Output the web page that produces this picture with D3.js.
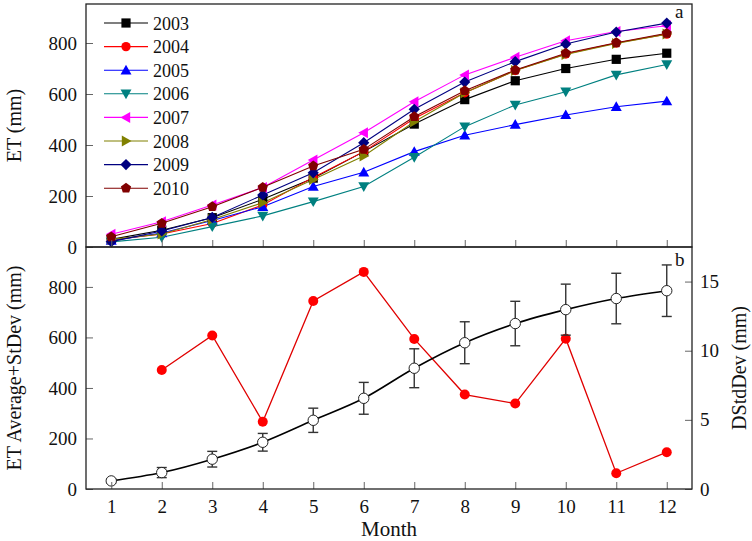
<!DOCTYPE html>
<html><head><meta charset="utf-8">
<script src="https://cdn.jsdelivr.net/npm/d3@7"></script>
<style>body{margin:0;background:#fff}svg{display:block}text{font-family:"Liberation Serif","Times New Roman",serif;fill:#111}</style>
</head><body>
<script>
const months = [1,2,3,4,5,6,7,8,9,10,11,12];
const years = ["2003","2004","2005","2006","2007","2008","2009","2010"];
const et2003 = [30, 66, 115, 187, 270, 374, 482, 578, 652, 700, 736, 760];
const et2004 = [28, 51, 92, 165, 273, 374, 504, 605, 692, 757, 800, 835];
const et2005 = [25, 55, 104, 158, 237, 293, 374, 438, 480, 518, 550, 572];
const et2006 = [20, 38, 80, 122, 178, 237, 352, 472, 557, 609, 675, 716];
const et2007 = [50, 99, 165, 233, 341, 448, 570, 675, 744, 809, 845, 868];
const et2008 = [30, 51, 108, 174, 265, 357, 491, 605, 692, 755, 798, 835];
const et2009 = [21, 63, 116, 204, 291, 409, 540, 647, 727, 796, 843, 878];
const et2010 = [40, 93, 158, 234, 318, 383, 511, 613, 694, 760, 801, 838];
const etAvg = [32, 65, 118, 185, 272, 359, 478, 579, 655, 710, 754, 785];
const etSd  = [8, 20, 31, 35, 48, 63, 77, 83, 88, 101, 100, 102];
const dStdDev = [null, 8.6, 11.1, 4.86, 13.6, 15.7, 10.85, 6.83, 6.18, 10.87, 1.14, 2.66];
const leftTicks = [0,200,400,600,800];
const rightTicks = [0,5,10,15];

const seriesList = [et2003, et2004, et2005, et2006, et2007, et2008, et2009, et2010];
const colors = ["#000000","#ff0000","#0000ff","#008080","#ff00ff","#808000","#000080","#800000"];
const shapes = ["square","circle","triUp","triDown","triLeft","triRight","diamond","pentagon"];

const W=752,H=541;
const svg = d3.select("body").append("svg").attr("width",W).attr("height",H);
const L=86,R=692,T1=4,B1=247,T2=247,B2=489;
const x = d3.scaleLinear().domain([0.5,12.5]).range([L,R]);
const yTop = d3.scaleLinear().domain([0,953]).range([B1,T1]);
const yBot = d3.scaleLinear().domain([0,958]).range([B2,T2]);
const yR = d3.scaleLinear().domain([0,17.5]).range([B2,T2]);

function shapePath(s){
  const r=4.6;
  switch(s){
    case "square": return `M${-r},${-r}H${r}V${r}H${-r}Z`;
    case "circle": return d3.symbol(d3.symbolCircle, 68)();
    case "triUp": return `M0,${-5.5}L${5.5},${4.2}L${-5.5},${4.2}Z`;
    case "triDown": return `M0,${5.5}L${5.5},${-4.2}L${-5.5},${-4.2}Z`;
    case "triLeft": return `M${-5.5},0L${4.2},${-5.5}L${4.2},${5.5}Z`;
    case "triRight": return `M${5.5},0L${-4.2},${-5.5}L${-4.2},${5.5}Z`;
    case "diamond": return `M0,-5.6L5.6,0L0,5.6L-5.6,0Z`;
    case "pentagon": {
      const pts=d3.range(5).map(i=>{const a=-Math.PI/2+i*2*Math.PI/5;return [5.4*Math.cos(a),5.4*Math.sin(a)];});
      return "M"+pts.map(p=>p.join(",")).join("L")+"Z";
    }
  }
}

// ---------- Top panel ----------
const gTop = svg.append("g");
seriesList.forEach((vals,i)=>{
  const line = d3.line().x((d,j)=>x(months[j])).y(d=>yTop(d));
  gTop.append("path").attr("d",line(vals)).attr("fill","none").attr("stroke",colors[i]).attr("stroke-width",1.1);
});
seriesList.forEach((vals,i)=>{
  gTop.selectAll(null).data(vals).enter().append("path")
    .attr("d",shapePath(shapes[i]))
    .attr("transform",(d,j)=>`translate(${x(months[j])},${yTop(d)})`)
    .attr("fill",colors[i]);
});
// legend
years.forEach((yr,i)=>{
  const yy = 23 + i*23.6;
  gTop.append("line").attr("x1",104).attr("x2",148).attr("y1",yy).attr("y2",yy).attr("stroke",colors[i]).attr("stroke-width",1.1);
  gTop.append("path").attr("d",shapePath(shapes[i])).attr("transform",`translate(126,${yy})`).attr("fill",colors[i]);
  gTop.append("text").attr("x",153).attr("y",yy+6.5).attr("font-size",18).text(yr);
});

// axes top
svg.append("g").attr("transform",`translate(${L},0)`)
  .call(d3.axisLeft(yTop).tickValues(leftTicks).tickSizeInner(-7).tickSizeOuter(0).tickPadding(9));
svg.append("g").attr("transform",`translate(0,${B1})`)
  .call(d3.axisBottom(x).tickValues(months).tickSizeInner(-7).tickSizeOuter(0).tickFormat(""));

// ---------- Bottom panel ----------
const gB = svg.append("g");
const redData = months.map((m,j)=>({m, v:dStdDev[j]})).filter(d=>d.v!==null);
gB.append("path").attr("d",d3.line().x(d=>x(d.m)).y(d=>yR(d.v))(redData))
  .attr("fill","none").attr("stroke","#e00000").attr("stroke-width",1.3);
gB.selectAll(null).data(redData).enter().append("circle")
  .attr("cx",d=>x(d.m)).attr("cy",d=>yR(d.v)).attr("r",5).attr("fill","#ff0000");
months.forEach((m,j)=>{
  const xx=x(m), y1=yBot(etAvg[j]+etSd[j]), y2=yBot(etAvg[j]-etSd[j]);
  gB.append("line").attr("x1",xx).attr("x2",xx).attr("y1",y1).attr("y2",y2).attr("stroke","#333").attr("stroke-width",1.4);
  gB.append("line").attr("x1",xx-5).attr("x2",xx+5).attr("y1",y1).attr("y2",y1).attr("stroke","#333").attr("stroke-width",1.4);
  gB.append("line").attr("x1",xx-5).attr("x2",xx+5).attr("y1",y2).attr("y2",y2).attr("stroke","#333").attr("stroke-width",1.4);
});
gB.append("path").attr("d",d3.line().curve(d3.curveMonotoneX).x((d,j)=>x(months[j])).y(d=>yBot(d))(etAvg))
  .attr("fill","none").attr("stroke","#000").attr("stroke-width",1.6);
gB.selectAll(null).data(etAvg).enter().append("circle")
  .attr("cx",(d,j)=>x(months[j])).attr("cy",d=>yBot(d)).attr("r",5.2)
  .attr("fill","#fff").attr("stroke","#222").attr("stroke-width",1);

svg.append("g").attr("transform",`translate(${L},0)`)
  .call(d3.axisLeft(yBot).tickValues(leftTicks).tickSizeInner(-7).tickSizeOuter(0).tickPadding(9));
svg.append("g").attr("transform",`translate(${R},0)`)
  .call(d3.axisRight(yR).tickValues(rightTicks).tickSizeInner(-7).tickSizeOuter(0).tickPadding(8));
svg.append("g").attr("transform",`translate(0,${B2})`)
  .call(d3.axisBottom(x).tickValues(months).tickSizeInner(-7).tickSizeOuter(0).tickPadding(11).tickFormat(d3.format("d")));

svg.selectAll(".domain").remove();
svg.selectAll(".tick line").attr("stroke","#666").attr("stroke-width",1);
svg.selectAll(".tick text").attr("font-size",19).attr("font-family","Liberation Serif, Times New Roman, serif").attr("fill","#111");

// frames
svg.append("rect").attr("x",L).attr("y",T1).attr("width",R-L).attr("height",B1-T1).attr("fill","none").attr("stroke","#222").attr("stroke-width",1.3);
svg.append("rect").attr("x",L).attr("y",T2).attr("width",R-L).attr("height",B2-T2).attr("fill","none").attr("stroke","#222").attr("stroke-width",1.3);

// labels
svg.append("text").attr("x",675).attr("y",18).attr("font-size",19).text("a");
svg.append("text").attr("x",675).attr("y",266).attr("font-size",19).text("b");
svg.append("text").attr("transform",`translate(21,${(T1+B1)/2}) rotate(-90)`).attr("text-anchor","middle").attr("font-size",20).text("ET (mm)");
svg.append("text").attr("transform",`translate(21,${(T2+B2)/2}) rotate(-90)`).attr("text-anchor","middle").attr("font-size",20).text("ET Average+StDev (mm)");
svg.append("text").attr("transform",`translate(746,${(T2+B2)/2}) rotate(-90)`).attr("text-anchor","middle").attr("font-size",20).text("DStdDev (mm)");
svg.append("text").attr("x",(L+R)/2).attr("y",536).attr("text-anchor","middle").attr("font-size",21).text("Month");
</script>
</body></html>
